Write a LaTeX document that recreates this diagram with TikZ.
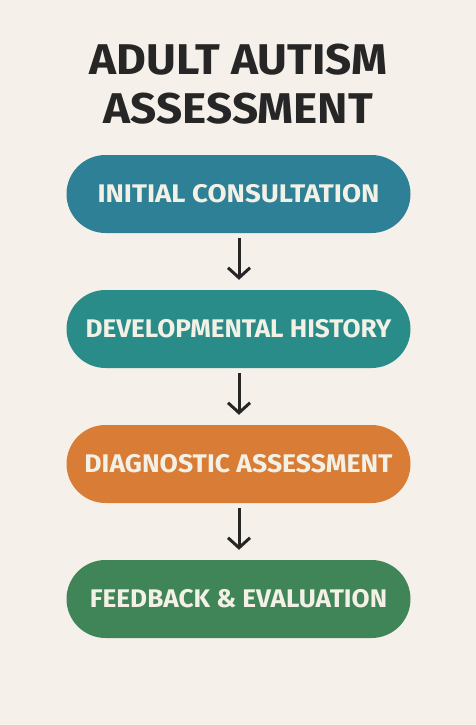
\documentclass[tikz,border=0pt]{standalone}
\usepackage{fontspec}
\setmainfont{Fira Sans}
\newfontfamily\titlefont[FakeStretch=1.065]{Fira Sans}
\newfontfamily\boxfont{Fira Sans}
\usetikzlibrary{arrows.meta,shapes.misc}
\definecolor{bg}{HTML}{F5F1EA}
\definecolor{ink}{HTML}{262626}
\definecolor{txt}{HTML}{F3F0E6}
\definecolor{cteal}{HTML}{2E8096}
\definecolor{cteal2}{HTML}{2A8C88}
\definecolor{corange}{HTML}{D97C36}
\definecolor{cgreen}{HTML}{3F8557}
\tikzset{
  stepbox/.style={rounded rectangle, minimum width=344pt, minimum height=78pt, inner sep=0pt, text=txt, font=\boxfont\fontsize{25.5}{25.5}\selectfont\bfseries},
  titletext/.style={text=ink, font=\titlefont\fontsize{43}{43}\selectfont\bfseries},
  flowarrow/.style={draw=ink, line width=3pt, -{Straight Barb[length=10pt,width=22pt,line width=3pt]}},
}
\begin{document}
\begin{tikzpicture}[x=1pt,y=-1pt]
\fill[bg] (0,0) rectangle (476,725);
\useasboundingbox (0,0) rectangle (476,725);
\node[titletext] (t1) at (238.5,60) {ADULT AUTISM};
\node[titletext] (t2) at (238.5,109) {ASSESSMENT};
\node[stepbox, fill=cteal] (b1) at (238.5,194) {\scalebox{1.085}[1]{INITIAL CONSULTATION}};
\node[stepbox, fill=cteal2] (b2) at (238.5,329) {\scalebox{1.026}[1]{DEVELOPMENTAL HISTORY}};
\node[stepbox, fill=corange] (b3) at (238.5,464) {\scalebox{1.042}[1]{DIAGNOSTIC ASSESSMENT}};
\node[stepbox, fill=cgreen] (b4) at (238.5,599) {\scalebox{1.027}[1]{FEEDBACK \& EVALUATION}};
\draw[flowarrow] ([xshift=0.5pt,yshift=-5pt]b1.south) -- ([xshift=0.5pt,yshift=10pt]b2.north);
\draw[flowarrow] ([xshift=0.5pt,yshift=-5pt]b2.south) -- ([xshift=0.5pt,yshift=10pt]b3.north);
\draw[flowarrow] ([xshift=0.5pt,yshift=-5pt]b3.south) -- ([xshift=0.5pt,yshift=10pt]b4.north);
\end{tikzpicture}
\end{document}
